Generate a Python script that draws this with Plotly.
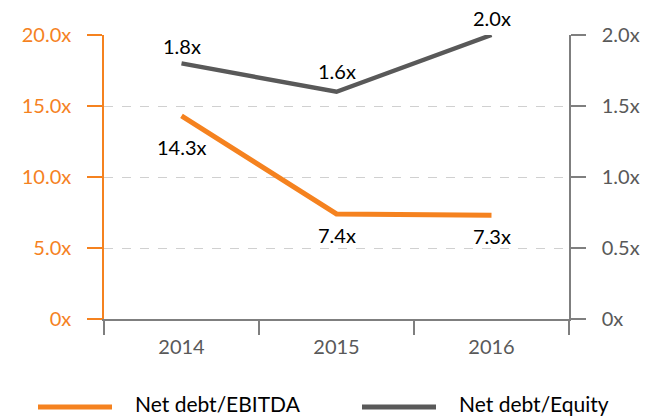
import plotly.graph_objects as go

years = ["2014", "2015", "2016"]
ebitda = [14.3, 7.4, 7.3]
equity = [1.8, 1.6, 2.0]
ebitda_labels = ["14.3x", "7.4x", "7.3x"]
equity_labels = ["1.8x", "1.6x", "2.0x"]
left_ticks = [0, 5, 10, 15, 20]
left_ticktext = ["0x", "5.0x", "10.0x", "15.0x", "20.0x"]
right_ticks = [0, 0.5, 1.0, 1.5, 2.0]
right_ticktext = ["0x", "0.5x", "1.0x", "1.5x", "2.0x"]
series_names = ["Net debt/EBITDA", "Net debt/Equity"]

ORANGE = "#F5821F"
GRAY = "#595959"
AXGRAY = "#7f7f7f"
FONT = "Lato"
FS = 20

fig = go.Figure()
fig.add_trace(go.Scatter(
    x=years, y=ebitda, mode="lines",
    line=dict(color=ORANGE, width=5), name=series_names[0], showlegend=False,
    cliponaxis=False,
))
fig.add_trace(go.Scatter(
    x=years, y=equity, mode="lines",
    line=dict(color=GRAY, width=4.5), name=series_names[1], showlegend=False,
    yaxis="y2", cliponaxis=False,
))

# data labels
for i, (yv, t) in enumerate(zip(ebitda, ebitda_labels)):
    fig.add_annotation(x=i, y=yv, xref="x", yref="y", text=t, showarrow=False,
                       yanchor="middle", yshift=-31 if i == 0 else -21,
                       font=dict(size=FS, color="#000000", family=FONT))
for i, (yv, t) in enumerate(zip(equity, equity_labels)):
    fig.add_annotation(x=i, y=yv, xref="x", yref="y2", text=t, showarrow=False,
                       yanchor="middle", yshift=21 if i == 1 else 17,
                       font=dict(size=FS, color="#000000", family=FONT))

fig.update_layout(
    width=655, height=418,
    margin=dict(l=104, r=86, t=35, b=99, autoexpand=False),
    paper_bgcolor="white", plot_bgcolor="white",
    font=dict(family=FONT, size=FS, color=GRAY),
    xaxis=dict(
        type="category", range=[-0.5, 2.5], tickson="boundaries",
        ticks="outside", ticklen=14, tickcolor=AXGRAY, tickwidth=1.5,
        showline=True, linecolor=AXGRAY, linewidth=1.5,
        showgrid=False, tickfont=dict(size=FS, color=GRAY), automargin=False,
        ticklabelstandoff=9,
    ),
    yaxis=dict(
        range=[0, 20], tickvals=left_ticks, ticktext=left_ticktext,
        ticks="outside", ticklen=15, tickcolor=ORANGE, tickwidth=1.5,
        showline=True, linecolor=ORANGE, linewidth=1.5,
        showgrid=True, gridcolor="#d0d0d0", griddash="dash", gridwidth=1,
        zeroline=False, tickfont=dict(size=FS, color=ORANGE),
        ticklabelstandoff=12, automargin=False,
    ),
    yaxis2=dict(
        range=[0, 2], tickvals=right_ticks, ticktext=right_ticktext,
        overlaying="y", side="right",
        ticks="outside", ticklen=15, tickcolor=AXGRAY, tickwidth=1.5,
        showline=True, linecolor=AXGRAY, linewidth=1.5,
        showgrid=False, zeroline=False, tickfont=dict(size=FS, color=GRAY),
        ticklabelstandoff=12, automargin=False,
    ),
)

# custom legend (line swatches + labels) in paper coordinates
pw = 655 - 104 - 86
ph = 418 - 35 - 99
def px_x(px):
    return (px - 104) / pw
def px_y(py):
    return (418 - 99 - py) / ph
legend_items = [(38, 112, 133, ORANGE, series_names[0]), (362, 436, 457, GRAY, series_names[1])]
for x0, x1, tx, col, name in legend_items:
    fig.add_shape(type="line", xref="paper", yref="paper",
                  x0=px_x(x0), x1=px_x(x1), y0=px_y(407), y1=px_y(407),
                  line=dict(color=col, width=5))
    fig.add_annotation(xref="paper", yref="paper", x=px_x(tx), y=px_y(403),
                       text=name, showarrow=False, xanchor="left", yanchor="middle",
                       font=dict(size=21, color="#000000", family=FONT))

fig.write_html("out.html", config={"displayModeBar": False},
               post_script="document.body.style.margin='0';document.body.style.overflow='hidden';")
